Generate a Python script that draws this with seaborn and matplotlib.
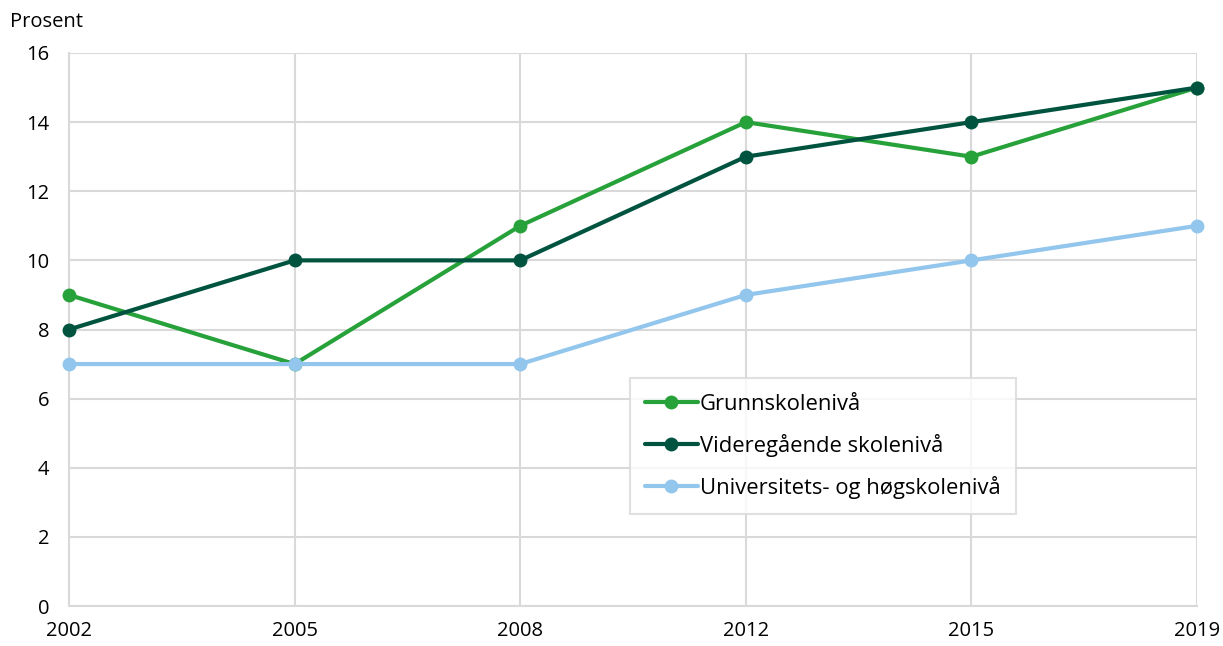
import matplotlib
matplotlib.use("Agg")
import matplotlib.pyplot as plt
import seaborn as sns
import pandas as pd

years = ["2002", "2005", "2008", "2012", "2015", "2019"]
grunnskole = [9, 7, 11, 14, 13, 15]
videregaende = [8, 10, 10, 13, 14, 15]
universitet = [7, 7, 7, 9, 10, 11]
series_names = ["Grunnskolenivå", "Videregående skolenivå", "Universitets- og høgskolenivå"]
colors = ["#27a13a", "#00543f", "#92c6ec"]

rows = []
for name, vals in zip(series_names, [grunnskole, videregaende, universitet]):
    for i, (y, v) in enumerate(zip(years, vals)):
        rows.append({"pos": i, "year": y, "value": v, "series": name})
df = pd.DataFrame(rows)

sns.set_theme(style="white")
plt.rcParams['font.family'] = ['Open Sans', 'DejaVu Sans']
plt.rcParams['text.color'] = '#000000'

fig = plt.figure(figsize=(12.23, 6.46), dpi=100)
ax = fig.add_axes([69/1223, 40/646, 1128/1223, 553/646])

sns.lineplot(data=df, x="pos", y="value", hue="series", hue_order=series_names,
             palette=colors, marker="o", markersize=10, markeredgewidth=0,
             linewidth=3, ax=ax, clip_on=False, zorder=3)

ax.set_xlim(0, len(years) - 1)
ax.set_ylim(0, 16)
ax.set_xticks(range(len(years)))
ax.set_xticklabels(years)
ax.set_yticks(range(0, 17, 2))
ax.grid(True, color="#d9d9d9", linewidth=1.5, zorder=0)
ax.set_axisbelow(True)
for s in ["top", "right"]:
    ax.spines[s].set_visible(False)
for s in ["left", "bottom"]:
    ax.spines[s].set_color("#d9d9d9")
    ax.spines[s].set_linewidth(1.5)
ax.tick_params(axis="both", length=0, labelsize=14.5, colors="#000000")
ax.tick_params(axis="x", pad=11)
ax.tick_params(axis="y", pad=14)
ax.set_xlabel("")
ax.set_ylabel("")
fig.text(10/1223, 1 - 22/646, "Prosent", fontsize=14.5, va="center", ha="left",
         color="#000000")

leg = ax.legend(loc="lower left", bbox_to_anchor=(0.497, 0.166), fontsize=15.8,
                frameon=True, fancybox=False, edgecolor="#d9d9d9",
                handlelength=2.4, borderpad=0.7, labelspacing=0.87,
                handletextpad=0.1, borderaxespad=0)
leg.get_frame().set_linewidth(1.5)
for t in leg.get_texts():
    t.set_color("#000000")

fig.savefig("out.png", dpi=100)
